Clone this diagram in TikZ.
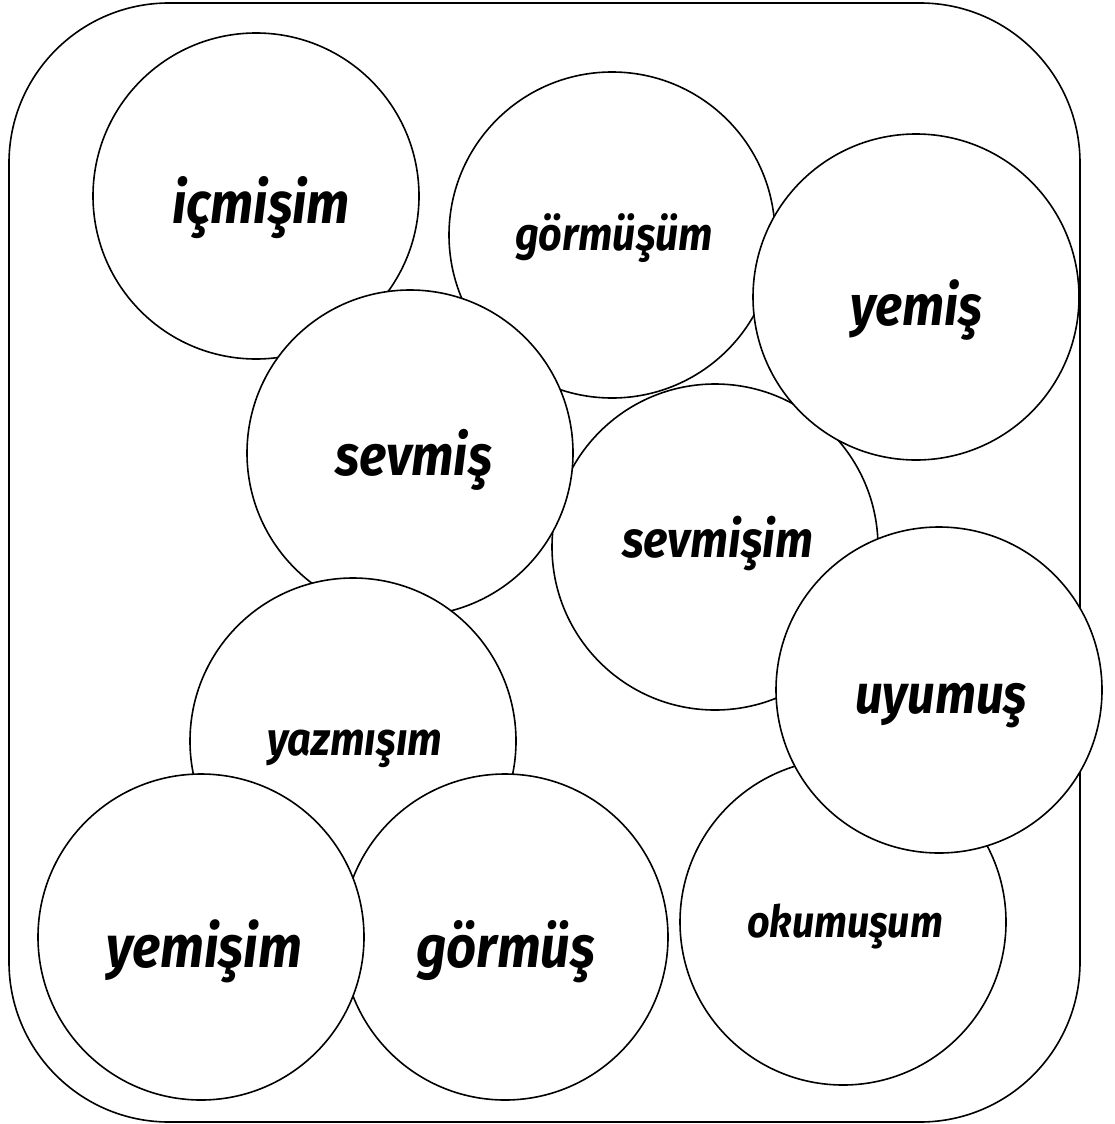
\documentclass[tikz,border=0pt]{standalone}
\usepackage{fontspec}
\usepackage{graphicx}
\setmainfont{Fira Sans}
\newcommand\wrd[2]{\scalebox{1}[1.12]{\resizebox{#1pt}{!}{\bfseries\itshape #2}}}
\tikzset{
  ring/.style={circle, draw=black, fill=white, line width=1.6pt, minimum size=326pt, inner sep=0pt},
  word/.style={anchor=base west, inner sep=0pt, outer sep=0pt},
  frame/.style={draw=black, line width=1.6pt, rounded corners=160pt}
}
\begin{document}
\begin{tikzpicture}[x=1pt,y=-1pt]
\useasboundingbox (0,0) rectangle (1114,1124);
\draw[frame] (9,3) rectangle (1080,1122);
\node[ring] (c1) at (256,196) {};
\node[word] (t1) at (172,223) {\wrd{178}{içmişim}};
\node[ring] (c2) at (612,235) {};
\node[word] (t2) at (515,250) {\wrd{198}{görmüşüm}};
\node[ring] (c5) at (715,547) {};
\node[word] (t5) at (622,557) {\wrd{191}{sevmişim}};
\node[ring] (c3) at (916,297) {};
\node[word] (t3) at (850,325) {\wrd{132}{yemiş}};
\node[ring] (c4) at (410,453) {};
\node[word] (t4) at (335,475) {\wrd{157}{sevmiş}};
\node[ring] (c7) at (353,741) {};
\node[word] (t7) at (267,755) {\wrd{175}{yazmışım}};
\node[ring] (c9) at (505,937) {};
\node[word] (t9) at (416,967) {\wrd{179}{görmüş}};
\node[ring] (c8) at (201,937) {};
\node[word] (t8) at (106,967) {\wrd{196}{yemişim}};
\node[ring] (c10) at (843,922) {};
\node[word] (t10) at (747,937) {\wrd{196}{okumuşum}};
\node[ring] (c6) at (939,690) {};
\node[word] (t6) at (855,713) {\wrd{172}{uyumuş}};
\end{tikzpicture}
\end{document}
